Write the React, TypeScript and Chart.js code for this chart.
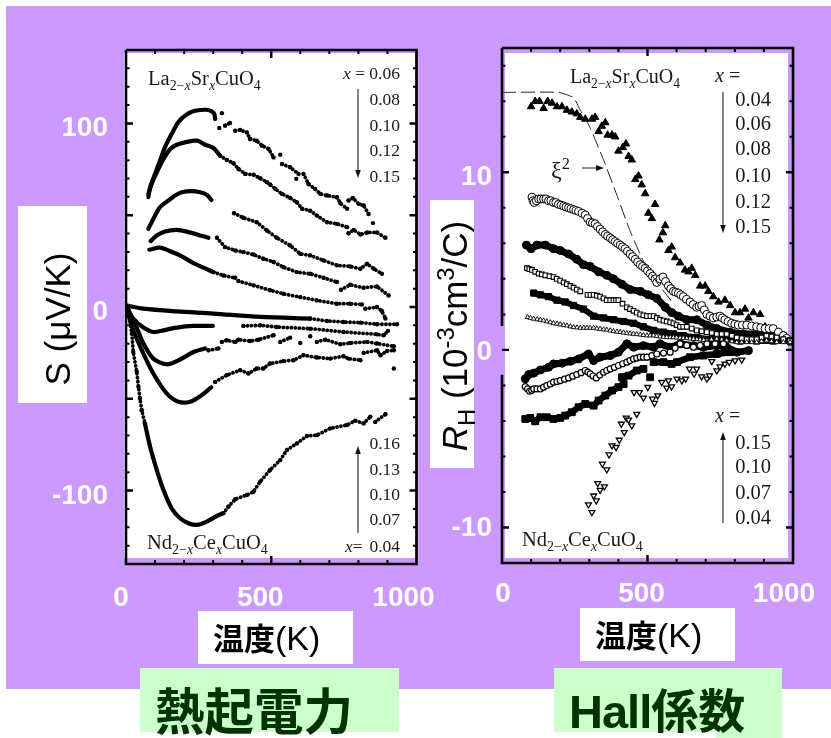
import React, { useEffect, useRef } from "react";
import { Chart, registerables, Scale } from "chart.js";

Chart.register(...registerables);

// ---------- Thermopower panel, S (uV/K) vs T (K) ----------
const _ = null;
const la06DenseT = [77, 83, 100, 117, 134, 157, 180, 203, 226, 255, 284, 303, 307];
const la06DenseS = [59.8, 65.2, 72.5, 79.7, 87, 94.2, 100.6, 104.2, 106.4, 107.3, 107.3, 105.5, 102.4];
const la06BeadT = [330, _, 321, _, 341, 358, _, 376, 393, 416, 427, 450, 468, 491, 508, _, 531, _, 537, 565, 594, _, 586, _, 611, 628, 651, 669, 692, 726, 738, 761, _, 766, 781, 801, 818, 835, _, 850];
const la06BeadS = [105.6, _, 97.5, _, 98.8, 100.2, _, 96, 96.4, 95.1, 91.5, 90.6, 87.9, 86.1, 81.5, _, 83, _, 77.9, 76.1, 72.5, _, 69.8, _, 72.5, 67, 64.3, 61.6, 60.7, 59.8, 56.5, 53.5, _, 58, 59.4, 56.2, 55.3, 50.7, _, 45.7];

const la08DenseT = [77, 88, 106, 129, 152, 175, 203, 244, 272, 301, 324];
const la08DenseS = [61.6, 67, 73.4, 80.6, 86.1, 88.4, 89.7, 90.6, 88.4, 86.6, 82.4];
const la08BeadT = [324, 347, 370, 387, 410, 439, 462, 485, 496, 514, 537, 565, 588, 606, 634, 657, 692, 726, 761, _, 766, 784, 807, 830, 864, 893];
const la08BeadS = [82.4, 80.1, 78.3, 75.2, 72.5, 72.1, 70.1, 68, 66.7, 64.3, 61.6, 59.4, 57.1, 53.5, 52.5, 49.8, 46.2, 45.3, 43.5, _, 40.2, 42, 39.5, 40.6, 40.6, 37.7];

const la10DenseT = [77, 94, 117, 146, 169, 192, 226, 255, 278, 294];
const la10DenseS = [42.6, 48, 54.4, 58, 60.7, 62.5, 63.1, 62.5, 61.2, 58.3];
const la10BeadT = [372, 404, 450, 485, 519, 565, 600, 634, 680, 726, 772, 807, 830, 853, 881];
const la10BeadS = [51.1, 48.6, 46.2, 41.7, 37.7, 33.5, 29, 28.1, 25.4, 22.7, 22.1, 20.8, 23.6, 20.8, 18.1];

const la12DenseT = [85, 106, 134, 175, 215, 255, 284];
const la12DenseS = [35.9, 39, 41.1, 42, 40.8, 39, 37.7];
const la12BeadT = [313, 341, 376, 404, 439, 473, 508, 542, 588, 634, 680, 726, _, 740, 772, 818, 864, 904];
const la12BeadS = [37.7, 32.6, 30.8, 29.9, 28.6, 26.3, 24.5, 21.7, 19, 18.1, 15.9, 13.6, _, 9.4, 12.1, 10.5, 11.2, 6.3];

const la15DenseT = [80, 117, 152, 186, 226, 267, 301];
const la15DenseS = [31.2, 32.3, 30.4, 28.1, 24.5, 21.4, 19];
const la15BeadT = [301, 335, 376, _, 387, 439, 496, 542, 600, 657, 726, 772, 812, _, 824, 864, 881, 893];
const la15BeadS = [19, 17.2, 15.9, _, 14.1, 11.8, 9.1, 7.2, 5.4, 3.6, 1.8, 1.8, 1.4, _, -0.9, 0, -2.2, -6.3];

const nd16DenseT = [0, 60, 175, 301, 462, 634];
const nd16DenseS = [0.9, -0.9, -2.4, -3.6, -5.4, -6.3];
const nd16BeadT = [634, 692, 749, 807, 864, 933];
const nd16BeadS = [-6.3, -7.6, -8.2, -8.5, -9.4, -9.4];

const nd13DenseT = [0, 25, 60, 94, 129, 175, 232, 299];
const nd13DenseS = [0.9, -6.3, -11.2, -13.6, -12.7, -11.2, -10.3, -10.3];
const nd13BeadT = [404, 462, 519, 634, 749, 864, 887, 902];
const nd13BeadS = [-10.3, -10, -10.9, -11.8, -13.6, -14.9, -15.4, -13];

const nd10DenseT = [0, 31, 60, 94, 140, 186, 232, 272];
const nd10DenseS = [0.9, -9.1, -19.9, -28.1, -31.2, -28.6, -24.5, -22.6];
const nd10BeadT = [284, 318, _, 330, 347, 376, 387, 427, 456, 508, _, 531, 565, _, 600, _, 634, _, 657, 686, 738, 772, 830, 864, 922];
const nd10BeadS = [-23.6, -22.6, _, -19, -18.1, -19, -17.8, -18.5, -17.8, -15.4, _, -19, -16.7, _, -19.6, _, -15.9, _, -19, -17.8, -20.3, -19.6, -19, -19.9, -21.4];

const nd07DenseT = [0, 25, 60, 94, 140, 180, 221, 261, 293];
const nd07DenseS = [0.9, -12.7, -25.4, -36.2, -47.1, -51.6, -51.6, -48, -43.8];
const nd07BeadT = [307, 347, 393, 422, 450, 473, 496, 542, 577, 611, 657, 703, 749, 766, 807, _, 818, 864, 876, 899, 922, _, 922];
const nd07BeadS = [-40.8, -37.1, -34.4, -36.2, -33.5, -33.5, -30.8, -29.5, -29, -26.3, -27.5, -28.1, -26.8, -28.1, -29, _, -25, -23.6, -26.3, -23.9, -23.6, _, -33.5];

const nd04DenseT = [65, 83, 106, 129, 157, 186, 215, 244, 278, 313, 335];
const nd04DenseS = [-63.4, -76.1, -88.8, -99.7, -109.6, -115.1, -117.8, -118.7, -116.9, -113.8, -112.3];
const nd04BeadT = [8, 20, 25, 37, 43, 48, 54, 65, _, 335, 353, 376, 416, 439, 462, 496, 531, 554, 588, 623, 657, 703, 761, 789, 818, 841, _, 858, 893];
const nd04BeadS = [-1.8, -14.5, -24.5, -35.3, -43.5, -49.8, -56.2, -63.4, _, -112.3, -108.7, -104.7, -102.4, -100.6, -95.1, -88.8, -83.4, -77.9, -74.3, -70.3, -69.8, -66.1, -64.3, -61.9, -63.4, -59.8, _, -62.6, -58.4];

// ---------- Hall panel, RH (1e-3 cm3/C) vs T (K) ----------
const h04T = [100, 114, 129, 143, 157, 172, 189, 206, 223, 240, 257, 269, 286, 309, 320, 332, 343, 355, 363, 378, 389, 400, 415, 426, 435, 446, 458, 469, 480, 492, 503, 515, 526, 541, 553, 561, 572, 583, 595, 612, 629, 641, 652, 664, 681, 698, 709, 726, 744, 766, 784, 801, 818, 835, 847, 864, 887, 904, 932, 955, 978, 995];
const h04R = [13.7, 14, 14, 13.6, 14, 13.9, 13.7, 13.7, 13.5, 13.4, 13.3, 13.1, 13, 13, 13.1, 12.3, 12.6, 12.8, 12.1, 12.1, 12, 11.2, 11.4, 11.6, 10.9, 10.7, 9.6, 9.8, 9.3, 8.8, 7.7, 7.4, 8.2, 6.2, 6.6, 7, 5.6, 5.8, 5.2, 4.9, 4.5, 4.4, 4.6, 4.2, 3.6, 3.6, 3.3, 3, 2.7, 2.8, 2.5, 2.1, 2.1, 2.3, 1.8, 2.1, 2, 1.3, 1.1, 0.8, 0.6, 0.4];
const h06T = [103, 107, 111, 118, 126, 134, 143, 151, 160, 168, 177, 185, 194, 203, 212, 220, 229, 237, 246, 254, 263, 275, 286, 294, 303, 311, 320, 328, 337, 346, 355, 363, 372, 380, 389, 397, 406, 414, 423, 431, 440, 449, 458, 466, 475, 483, 492, 500, 509, 517, 526, 532, 543, 553, 562, 572, 580, 589, 597, 606, 614, 623, 634, 646, 657, 669, 677, 686, 695, 704, 715, 726, 738, 749, 757, 766, 777, 789, 800, 812, 826, 841, 858, 875, 889, 904, 918, 932, 950, 967, 978, 990];
const h06R = [8.6, 8.4, 8.3, 8.4, 8.5, 8.5, 8.5, 8.5, 8.4, 8.4, 8.3, 8.3, 8.2, 8.15, 8.1, 8.05, 8, 7.95, 7.9, 7.85, 7.8, 7.7, 7.6, 7.4, 7.2, 7.15, 7.1, 6.95, 6.8, 6.65, 6.5, 6.4, 6.3, 6.2, 6.1, 6, 5.9, 5.8, 5.7, 5.55, 5.4, 5.25, 5.1, 4.95, 4.8, 4.7, 4.6, 4.45, 4.3, 4.15, 4, 3.8, 4, 4.1, 3.85, 3.6, 3.45, 3.3, 3.25, 3.2, 3.1, 3, 2.85, 2.7, 2.55, 2.4, 2.45, 2.5, 2.25, 2, 1.9, 1.8, 1.85, 1.9, 1.8, 1.7, 1.6, 1.5, 1.45, 1.4, 1.4, 1.4, 1.35, 1.3, 1.25, 1.2, 1.2, 1.2, 1, 0.8, 0.65, 0.5];
const h08T = [84, 100, 120, 149, 177, 200, 229, 257, 280, 303, 332, 360, 383, 412, 440, 475, 503, 532, 561, 583, 606, 635, 669, 704, 738, 784, 829, 875, 921, 967];
const h08R = [5.9, 5.7, 5.9, 5.9, 5.7, 5.6, 5.4, 5.1, 4.8, 4.7, 4.4, 4.2, 4, 3.7, 3.4, 3.3, 3.1, 2.9, 2.4, 2.1, 1.9, 1.7, 1.7, 1.4, 1.2, 1, 0.9, 0.9, 0.8, 0.8];
const h10T = [86, 94, 103, 114, 126, 137, 149, 163, 177, 188, 200, 212, 223, 235, 246, 257, 269, _, 294, 304, 315, 326, 337, 349, 360, 372, 383, 392, 400, 414, 429, 440, 452, 463, 475, 486, 498, 510, 521, 532, 543, 555, 566, 578, 589, 600, 612, 623, 635, 652, 669, 686, 704, 721, 738, 755, 772, 790, 807, 824, 841, 858, 875, 892, 909, 926, 944, 967, 990];
const h10R = [4.6, 4.55, 4.5, 4.4, 4.3, 4.25, 4.2, 4.15, 4.1, 4, 3.9, 3.8, 3.7, 3.6, 3.5, 3.4, 3.3, _, 3.1, 3.1, 3.1, 3.05, 3, 2.9, 2.8, 2.8, 2.8, 2.8, 2.8, 2.6, 2.4, 2.3, 2.2, 2.1, 2, 1.95, 1.9, 1.9, 1.9, 1.8, 1.7, 1.65, 1.6, 1.55, 1.5, 1.4, 1.3, 1.3, 1.3, 1.2, 1.1, 1.05, 1, 0.95, 0.9, 0.9, 0.9, 0.8, 0.7, 0.65, 0.6, 0.6, 0.6, 0.7, 0.8, 0.75, 0.7, 0.6, 0.5];
const h12T = [109, 132, 160, 189, 217, 246, 280, 315, 349, 383, 418, 452, 486, 521, 555, 589, 623, 669, 715, 761, 818, 875, 932, 990];
const h12R = [3.2, 3.1, 3, 2.8, 2.7, 2.5, 2.3, 1.9, 1.8, 1.7, 1.6, 1.5, 1.3, 1.1, 1, 0.9, 0.8, 0.7, 0.6, 0.6, 0.5, 0.5, 0.5, 0.5];
const h15T = [88, 98, 109, 121, 132, 143, 154, 166, 177, 189, 200, 212, 223, 235, 246, 258, 269, 281, 292, 303, 315, 326, 337, 349, 360, 372, 383, 395, 406, 418, 429, 440, 452, 463, 475, 486, 498, 509, 521, 532, 543, 555, 566, 578, 589, 600, 612, 623, 635, 646, 658, 670, 681, 693, 704, 720, 738, 755, 772, 790, 807, 824, 841, 858, 875, 892, 909, 926, 944, 967, 990];
const h15R = [1.84, 1.8, 1.75, 1.72, 1.69, 1.65, 1.6, 1.55, 1.5, 1.47, 1.43, 1.4, 1.37, 1.32, 1.28, 1.26, 1.24, 1.24, 1.24, 1.24, 1.24, 1.2, 1.18, 1.15, 1.13, 1.09, 1.05, 1.02, 1, 0.97, 0.94, 0.92, 0.9, 0.88, 0.86, 0.83, 0.81, 0.81, 0.81, 0.78, 0.75, 0.73, 0.71, 0.71, 0.71, 0.69, 0.68, 0.67, 0.66, 0.64, 0.62, 0.6, 0.58, 0.56, 0.53, 0.58, 0.62, 0.58, 0.53, 0.48, 0.43, 0.43, 0.43, 0.43, 0.43, 0.48, 0.53, 0.48, 0.43, 0.43, 0.43];

const e15T = [80, 92, 109, 132, 160, 177, 206, 235, 263, 297, 315, 337, 372, 400, 429, 452, 486, 521, 543, 578, 612, 658, 692, 738, 772, 807, 847];
const e15R = [-1.63, -1.39, -1.31, -1.13, -0.98, -0.79, -0.75, -0.64, -0.51, -0.23, -0.6, -0.41, -0.32, -0.13, 0.34, 0.15, 0.24, 0.15, 0.34, 0.15, 0.34, 0.24, 0.15, 0.24, 0.15, -0.13, -0.04];
const e10T = [80, 88, 95, 102, 109, 120, 132, 143, 154, 166, 177, 189, 200, 215, 229, 243, 257, 272, 286, 295, 303, 313, 324, 336, 349, 360, 372, 386, 400, 415, 429, 440, 452, 463, 475, 486, 498, 515, 532, 555, 578, 595, 612, 635, 658, 681, 704, 732, 761];
const e10R = [-2.07, -2.2, -2.33, -2.27, -2.2, -2.2, -2.2, -2.1, -2.01, -1.92, -1.82, -1.78, -1.73, -1.65, -1.58, -1.48, -1.39, -1.28, -1.16, -1.25, -1.35, -1.47, -1.58, -1.42, -1.26, -1.16, -1.07, -0.98, -0.88, -0.78, -0.69, -0.6, -0.51, -0.46, -0.41, -0.41, -0.41, -0.32, -0.23, -0.18, -0.13, 0.1, 0.34, 0.25, 0.15, 0.25, 0.34, 0.34, 0.34];
const e07T = [80, 97, 114, 132, 154, 177, 200, 217, 240, 263, 286, 315, 332, 355, 378, 400, 418, _, 412, 435, 463, 486, _, 509, _, 521, 555, 583, 601, 646, 692, 738, 784];
const e07R = [-3.89, -3.83, -4.02, -3.79, -3.79, -3.89, -3.83, -3.7, -3.51, -3.23, -3.04, -3.14, -2.85, -2.57, -2.29, -2.1, -1.92, _, -1.54, -1.45, -1.16, -1.07, _, -1.54, _, -0.69, -0.69, -0.79, -0.69, -0.41, -0.32, -0.23, -0.13];
const e04T = [309, 297, 324, 315, 337, 352, 329, 360, 345, 368, 378, 392, 403, 420, 410, 446, 427, 435, 463, 524, 517, 535, 486, 472, 454, 501, 566, 549, 583, 572, 601, 618, 631, 644, 660, 669, 686, 704, 713, 721, 738, 749, 766, 781, 801, 824];
const e04R = [-9.15, -8.71, -8.49, -8.21, -7.89, -7.7, -7.51, -6.74, -6.42, -5.9, -5.39, -5.48, -5.07, -4.64, -4.17, -4.26, -3.83, -3.94, -3.61, -3, -2.76, -2.57, -2.7, -2.39, -2.39, -2.1, -2.14, -1.82, -2.07, -1.73, -1.63, -1.73, -1.63, -1.07, -1.35, -1.07, -1.5, -1.63, -1.45, -0.64, -1.16, -0.94, -0.79, -0.69, -0.6, -0.56];
const xiT = [0, 194, 246, 269, 303, 349, 395, 440, 486, 532, 595];
const xiR = [14.5, 14.5, 14.2, 13.5, 12.5, 10.7, 8.7, 6.7, 5, 3.8, 2.5];

// ---------- Tick values ----------
const xLabelTicks = [0, 500, 1000];
const xMinorTicks = [100, 200, 300, 400, 600, 700, 800, 900];
const sLabelTicks = [100, 0, -100];
const sMajorTicks = [100, 50, 0, -50, -100];
const sMinorTicks = [130, 120, 110, 90, 80, 70, 60, 40, 30, 20, 10, -10, -20, -30, -40, -60, -70, -80, -90, -110, -120, -130];
const rLabelTicks = [10, 0, -10];
const rMinorTicks = [16, 14, 12, 8, 6, 4, 2, -2, -4, -6, -8];

const PURPLE = "#cc99ff";
const SANS = '"Liberation Sans", Arial, sans-serif';
const SERIF = '"Liberation Serif", "Times New Roman", serif';
const CJK = '"Noto Sans CJK JP", sans-serif';

const zip = (xs: (number | null)[], ys: (number | null)[]) => xs.map((x, i) => ({ x, y: ys[i] }));

const dense = (xs: any[], ys: any[]) => ({
  data: zip(xs, ys), showLine: true, borderColor: "#000", backgroundColor: "#000",
  borderWidth: 4.2, pointRadius: 0, borderCapStyle: "round", borderJoinStyle: "round", tension: 0.3,
});
const bead = (xs: any[], ys: any[]) => ({
  data: zip(xs, ys), showLine: true, borderColor: "#000", backgroundColor: "#000",
  borderWidth: 3.8, borderDash: [0.1, 3.9], borderCapStyle: "round", pointRadius: 2.2, pointBorderWidth: 0,
});
const mark = (xs: any[], ys: any[], style: string, r: number, fill: string, rotation = 0, bw = 1) => ({
  data: zip(xs, ys), showLine: false, pointStyle: style, pointRadius: r, pointRotation: rotation,
  pointBackgroundColor: fill, pointBorderColor: "#000", pointBorderWidth: bw,
});
// Filled markers that overlap into a solid band in the reference.
const band = (xs: any[], ys: any[], style: string, r: number, width: number) => ({
  ...mark(xs, ys, style, r, "#000"), showLine: true, borderColor: "#000", borderWidth: width,
});

// Draws the box and the inward ticks on all four sides from the scales.
const frameTicks = {
  id: "frameTicks",
  afterDatasetsDraw(chart: any, _a: any, o: any) {
    const { ctx, chartArea: a, scales: { x, y } } = chart;
    ctx.save();
    ctx.strokeStyle = "#000";
    ctx.lineWidth = 2.6;
    ctx.beginPath();
    ctx.moveTo(a.left, a.top); ctx.lineTo(a.right, a.top); ctx.lineTo(a.right, a.bottom); ctx.lineTo(a.left, a.bottom);
    if (o.gap) {
      ctx.lineTo(a.left, y.getPixelForValue(o.gap[1]));
      ctx.moveTo(a.left, y.getPixelForValue(o.gap[0]));
    }
    ctx.lineTo(a.left, a.top);
    ctx.stroke();
    const vt = (v: number, len: number) => {
      const p = x.getPixelForValue(v);
      ctx.moveTo(p, a.top); ctx.lineTo(p, a.top + len);
      ctx.moveTo(p, a.bottom); ctx.lineTo(p, a.bottom - len);
    };
    const hz = (v: number, len: number) => {
      const p = y.getPixelForValue(v);
      ctx.moveTo(a.left, p); ctx.lineTo(a.left + len, p);
      ctx.moveTo(a.right, p); ctx.lineTo(a.right - len, p);
    };
    ctx.lineWidth = 2;
    ctx.beginPath();
    xMinorTicks.forEach((v) => vt(v, 4));
    o.yMinor.forEach((v: number) => hz(v, 3.5));
    ctx.stroke();
    ctx.lineWidth = 2.4;
    ctx.beginPath();
    vt(500, 8);
    o.yMajor.forEach((v: number) => hz(v, 7));
    ctx.stroke();
    ctx.restore();
  },
};

function makeChart(canvas: HTMLCanvasElement, cfg: any) {
  const labelFont = { family: SANS, size: 28, weight: "bold" as const };
  const nudged = (s: any, nudge: number[]) => {
    s.getPixelForTick = (i: number) => (Scale.prototype as any).getPixelForTick.call(s, i) + (nudge[i] || 0);
  };
  return new Chart(canvas, {
    type: "scatter",
    data: { datasets: cfg.datasets },
    plugins: [frameTicks],
    options: {
      responsive: false,
      animation: false,
      events: [],
      layout: { padding: cfg.padding },
      plugins: { legend: { display: false }, tooltip: { enabled: false }, frameTicks: cfg.frame } as any,
      scales: {
        x: {
          type: "linear", min: 0, max: 1000,
          grid: { display: false, drawTicks: false }, border: { display: false },
          ticks: { color: "#fff", font: labelFont, padding: cfg.xPad, autoSkip: false, maxRotation: 0, callback: (v: any) => String(v) },
          afterBuildTicks: (s: any) => { s.ticks = xLabelTicks.map((value) => ({ value })); },
          afterFit: (s: any) => { s.height = cfg.xHeight; s.paddingLeft = 0; s.paddingRight = 0; nudged(s, cfg.xNudge); },
        },
        y: {
          type: "linear", min: cfg.yMin, max: cfg.yMax,
          grid: { display: false, drawTicks: false }, border: { display: false },
          ticks: { color: "#fff", font: labelFont, padding: cfg.yPad, autoSkip: false, callback: (v: any) => String(v) },
          afterBuildTicks: (s: any) => { s.ticks = cfg.yLabels.map((value: number) => ({ value })); },
          afterFit: (s: any) => { s.width = cfg.yWidth; s.paddingTop = 0; s.paddingBottom = 0; nudged(s, cfg.yNudge); },
        },
      },
    } as any,
  });
}

const box = (l: number, t: number, r: number, b: number, bg: string, extra: any = {}): React.CSSProperties => ({
  position: "absolute", left: l, top: t, width: r - l, height: b - t, background: bg, ...extra,
});

function Txt({ x, y, right, size, children, font = SERIF, color = "#1a1a1a", weight = "normal" }: any) {
  const pos: any = right !== undefined ? { right: 831 - right } : { left: x };
  return (
    <div style={{ position: "absolute", ...pos, top: y, transform: "translateY(-50%)", fontFamily: font, fontSize: size, lineHeight: 1, color, fontWeight: weight, whiteSpace: "nowrap" }}>
      {children}
    </div>
  );
}
const Sb = ({ children }: any) => <sub style={{ fontSize: "0.68em", lineHeight: 0 }}>{children}</sub>;
const Sp = ({ children }: any) => <sup style={{ fontSize: "0.68em", lineHeight: 0 }}>{children}</sup>;
const I = ({ children }: any) => <i>{children}</i>;

function Rotated({ cx, cy, size, children }: any) {
  return (
    <div style={{ position: "absolute", left: cx, top: cy, transform: "translate(-50%,-50%) rotate(-90deg)", fontFamily: SANS, fontSize: size, lineHeight: 1, color: "#000", whiteSpace: "nowrap" }}>
      {children}
    </div>
  );
}

const Arrow = ({ x, y1, y2 }: any) => {
  const d = y2 > y1 ? 1 : -1;
  return (
    <g>
      <line x1={x} y1={y1} x2={x} y2={y2 - d * 6} stroke="#222" strokeWidth={1.1} />
      <polygon points={`${x - 2.8},${y2 - d * 8} ${x + 2.8},${y2 - d * 8} ${x},${y2}`} fill="#111" />
    </g>
  );
};

const KLabel = () => <span style={{ fontFamily: SANS, fontWeight: "normal", fontSize: 34 }}>(K)</span>;

export default function App() {
  const leftRef = useRef<HTMLCanvasElement>(null);
  const rightRef = useRef<HTMLCanvasElement>(null);

  useEffect(() => {
    const left = makeChart(leftRef.current!, {
      datasets: [
        dense(la06DenseT, la06DenseS), bead(la06BeadT, la06BeadS),
        dense(la08DenseT, la08DenseS), bead(la08BeadT, la08BeadS),
        dense(la10DenseT, la10DenseS), bead(la10BeadT, la10BeadS),
        dense(la12DenseT, la12DenseS), bead(la12BeadT, la12BeadS),
        dense(la15DenseT, la15DenseS), bead(la15BeadT, la15BeadS),
        dense(nd16DenseT, nd16DenseS), bead(nd16BeadT, nd16BeadS),
        dense(nd13DenseT, nd13DenseS), bead(nd13BeadT, nd13BeadS),
        dense(nd10DenseT, nd10DenseS), bead(nd10BeadT, nd10BeadS),
        dense(nd07DenseT, nd07DenseS), bead(nd07BeadT, nd07BeadS),
        dense(nd04DenseT, nd04DenseS), bead(nd04BeadT, nd04BeadS),
      ],
      padding: { left: 0, top: 50, right: 23.5, bottom: 0 },
      xHeight: 56, yWidth: 126, xPad: 17, yPad: 18,
      xNudge: [-5, -11, -13], yNudge: [5, 5, 6],
      yMin: -140, yMax: 140, yLabels: sLabelTicks,
      frame: { yMinor: sMinorTicks, yMajor: sMajorTicks },
    });
    const right = makeChart(rightRef.current!, {
      datasets: [
        { data: zip(xiT, xiR), showLine: true, borderColor: "#222", borderWidth: 1, borderDash: [14, 5], pointRadius: 0, tension: 0.15 },
        mark(e04T, e04R, "triangle", 3.4, "#fff", 180, 1.3),
        mark(e10T, e10R, "circle", 3, "#fff", 0, 1.2),
        band(e15T, e15R, "circle", 4, 7),
        band(e07T, e07R, "rect", 4.8, 6.5),
        { ...mark(h15T, h15R, "triangle", 2.8, "#fff", 0, 0.9), showLine: true, borderColor: "#222", borderWidth: 1 },
        mark(h10T, h10R, "rect", 3.3, "#fff", 0, 1.1),
        band(h12T, h12R, "rect", 4.4, 6),
        mark(h06T, h06R, "circle", 4, "#fff", 0, 1),
        band(h08T, h08R, "circle", 4, 7),
        mark(h04T, h04R, "triangle", 4.3, "#000"),
      ],
      padding: { left: 0, top: 48, right: 38, bottom: 0 },
      xHeight: 57, yWidth: 72, xPad: 14, yPad: 10,
      xNudge: [1, -6, -9], yNudge: [5, 2, 1],
      yMin: -12, yMax: 17, yLabels: rLabelTicks,
      frame: { yMinor: rMinorTicks, yMajor: rLabelTicks, gap: [1.35, -1.4] },
    });
    return () => { left.destroy(); right.destroy(); };
  }, []);

  return (
    <div style={{ position: "absolute", left: 0, top: 0, width: 831, height: 738, overflow: "hidden", background: "#fff" }}>
      <div style={box(6, 6, 831, 689, PURPLE)} />
      <div style={box(124, 53, 415, 558, "#fff")} />
      <div style={box(505, 53, 788, 558, "#fff")} />
      <div style={box(498, 325, 505, 374, PURPLE)} />
      <div style={box(18, 206, 87, 403, "#fff")} />
      <div style={box(430, 200, 474, 468, "#fff")} />
      <div style={box(198, 611, 353, 664, "#fff")} />
      <div style={box(580, 608, 735, 661, "#fff")} />
      <div style={box(140, 668, 399, 732, "#ccffcc")} />
      <div style={box(554, 668, 782, 732, "#ccffcc")} />
      <div style={box(716, 732, 782, 738, "#ccffcc")} />

      <canvas ref={leftRef} width={440} height={620} style={{ position: "absolute", left: 0, top: 0 }} />
      <canvas ref={rightRef} width={401} height={620} style={{ position: "absolute", left: 430, top: 0 }} />

      <svg width={831} height={738} style={{ position: "absolute", left: 0, top: 0, pointerEvents: "none" }}>
        <Arrow x={358} y1={89} y2={178} />
        <Arrow x={358} y1={533} y2={446} />
        <Arrow x={723} y1={92} y2={233} />
        <Arrow x={723} y1={523} y2={432} />
        <line x1={582} y1={168} x2={600} y2={168} stroke="#222" strokeWidth={1} />
        <polygon points="596,165 604,168 596,171" fill="#111" />
      </svg>

      <Txt x={148} y={78} size={20.5}>La<Sb>2−<I>x</I></Sb>Sr<Sb><I>x</I></Sb>CuO<Sb>4</Sb></Txt>
      <Txt right={400} y={74} size={17.5}><I>x</I> = 0.06</Txt>
      <Txt right={400} y={100} size={17.5}>0.08</Txt>
      <Txt right={400} y={126} size={17.5}>0.10</Txt>
      <Txt right={400} y={151} size={17.5}>0.12</Txt>
      <Txt right={400} y={177} size={17.5}>0.15</Txt>
      <Txt x={147} y={542} size={20.5}>Nd<Sb>2−<I>x</I></Sb>Ce<Sb><I>x</I></Sb>CuO<Sb>4</Sb></Txt>
      <Txt right={400} y={444} size={17.5}>0.16</Txt>
      <Txt right={400} y={470} size={17.5}>0.13</Txt>
      <Txt right={400} y={495} size={17.5}>0.10</Txt>
      <Txt right={400} y={520} size={17.5}>0.07</Txt>
      <Txt x={345} y={547} size={17.5}><I>x</I>=</Txt>
      <Txt right={400} y={547} size={17.5}>0.04</Txt>

      <Txt x={570} y={76} size={20}>La<Sb>2−<I>x</I></Sb>Sr<Sb><I>x</I></Sb>CuO<Sb>4</Sb></Txt>
      <Txt x={715} y={75} size={20}><I>x</I> =</Txt>
      <Txt right={771} y={99} size={20.5}>0.04</Txt>
      <Txt right={771} y={123} size={20.5}>0.06</Txt>
      <Txt right={771} y={148} size={20.5}>0.08</Txt>
      <Txt right={771} y={175} size={20.5}>0.10</Txt>
      <Txt right={771} y={201} size={20.5}>0.12</Txt>
      <Txt right={771} y={226} size={20.5}>0.15</Txt>
      <Txt x={551} y={170} size={24}>ξ<Sp>2</Sp></Txt>
      <Txt x={715} y={415} size={20}><I>x</I> =</Txt>
      <Txt right={771} y={442} size={20.5}>0.15</Txt>
      <Txt right={771} y={466} size={20.5}>0.10</Txt>
      <Txt right={771} y={492} size={20.5}>0.07</Txt>
      <Txt right={771} y={517} size={20.5}>0.04</Txt>
      <Txt x={522} y={539} size={20.5}>Nd<Sb>2−<I>x</I></Sb>Ce<Sb><I>x</I></Sb>CuO<Sb>4</Sb></Txt>

      <Rotated cx={57} cy={319} size={35}>S (μV/K)</Rotated>
      <Rotated cx={454} cy={336} size={35}><I>R</I><Sb>H</Sb> (10<Sp>-3</Sp>cm<Sp>3</Sp>/C)</Rotated>

      <Txt x={213} y={638} size={31} font={CJK} color="#000" weight="bold">温度<KLabel /></Txt>
      <Txt x={595} y={635} size={31} font={CJK} color="#000" weight="bold">温度<KLabel /></Txt>
      <Txt x={155} y={709} size={49.5} font={CJK} color="#003300" weight="bold">熱起電力</Txt>
      <Txt x={569} y={709} size={47} font={CJK} color="#003300" weight="bold"><span style={{ fontFamily: SANS, letterSpacing: -1 }}>Hall</span>係数</Txt>
    </div>
  );
}
